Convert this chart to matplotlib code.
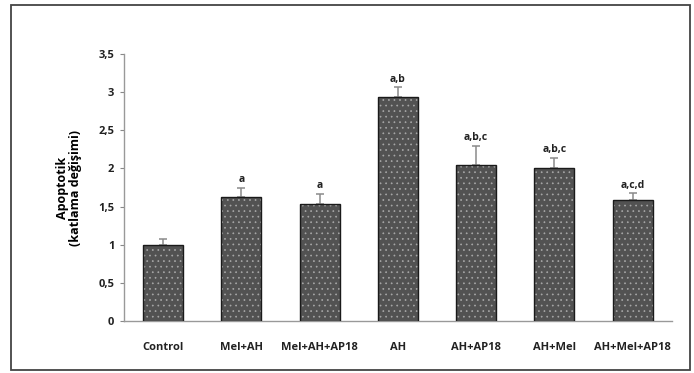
import matplotlib.pyplot as plt
from matplotlib.patches import Rectangle
import numpy as np

plt.rcParams['font.family'] = ['Open Sans', 'DejaVu Sans']
plt.rcParams['hatch.linewidth'] = 0.5

groups = ['Control', 'Mel+AH', 'Mel+AH+AP18', 'AH', 'AH+AP18', 'AH+Mel', 'AH+Mel+AP18']
means = [1.00, 1.63, 1.53, 2.93, 2.05, 2.00, 1.58]
errs = [0.08, 0.12, 0.14, 0.14, 0.25, 0.14, 0.10]
sig = ['', 'a', 'a', 'a,b', 'a,b,c', 'a,b,c', 'a,c,d']
yticks = [0, 0.5, 1, 1.5, 2, 2.5, 3, 3.5]

fig = plt.figure(figsize=(6.94, 3.73), dpi=100)
ax = fig.add_axes([0.1787, 0.1394, 0.968 - 0.1787, 0.8552 - 0.1394])

# frame around the whole figure
fig.patches.append(Rectangle((0.0165, 0.007), 0.978, 0.98, transform=fig.transFigure,
                             fill=False, edgecolor='#444444', linewidth=1.3))

x = np.arange(len(groups))
w = 0.51
ax.errorbar(x, means, yerr=[np.zeros(len(errs)), errs], fmt='none',
            ecolor='#8a8a8a', elinewidth=1.1, capsize=3, capthick=1.1, zorder=1)
ax.bar(x, means, width=w, color='#525252', edgecolor='#a8a8a8', hatch='...',
       linewidth=0, zorder=2)
ax.bar(x, means, width=w, fill=False, edgecolor='#1a1a1a', linewidth=1.0, zorder=3)

for xi, m, e, s in zip(x, means, errs, sig):
    if s:
        ax.text(xi, m + e + 0.03, s, ha='center', va='bottom',
                fontsize=7.5, fontweight='bold', color='#222222')

ax.set_xlim(-0.5, 6.5)
ax.set_ylim(0, 3.5)
ax.set_yticks(yticks)
ax.set_yticklabels([('%g' % t).replace('.', ',') for t in yticks])
ax.set_xticks(x)
ax.set_xticklabels(groups)
ax.tick_params(axis='x', length=0, pad=15)
ax.tick_params(axis='y', length=3, width=0.8, color='#888888', pad=4)
for lab in ax.get_xticklabels() + ax.get_yticklabels():
    lab.set_fontsize(8)
    lab.set_fontweight('bold')
    lab.set_color('#222222')

for side in ['top', 'right']:
    ax.spines[side].set_visible(False)
for side in ['left', 'bottom']:
    ax.spines[side].set_color('#999999')
    ax.spines[side].set_linewidth(1.0)

ax.set_ylabel('Apoptotik\n(katlama değişimi)', fontsize=9, fontweight='bold',
              linespacing=1.0, labelpad=12)

fig.savefig('out.png', dpi=100)
